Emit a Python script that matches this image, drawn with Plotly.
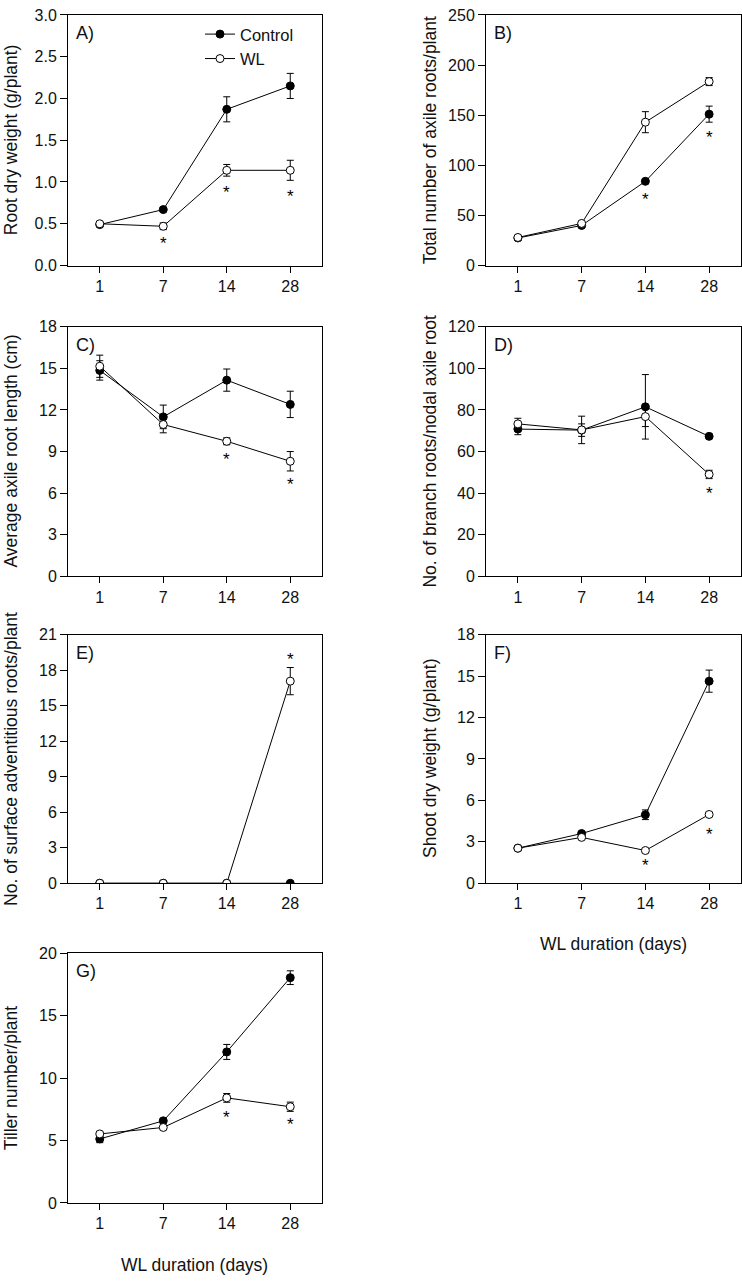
import plotly.graph_objects as go

W, H = 742, 1285
days = ['1', '7', '14', '28']

# Panel A - Root dry weight
a_ctrl = [0.49, 0.67, 1.87, 2.15]
a_ctrl_err = [0.02, 0.02, 0.15, 0.15]
a_wl = [0.50, 0.47, 1.14, 1.14]
a_wl_err = [0.02, 0.04, 0.07, 0.12]
a_star_idx = [1, 2, 3]
a_star_y = [0.26, 0.87, 0.83]

# Panel B - Total number of axile roots
b_ctrl = [27.5, 40, 84, 151]
b_ctrl_err = [2, 2, 2, 8]
b_wl = [28, 42, 143, 183.5]
b_wl_err = [2, 2, 10.5, 4]
b_star_idx = [2, 3]
b_star_y = [66, 128]

# Panel C - Average axile root length
c_ctrl = [14.85, 11.5, 14.15, 12.4]
c_ctrl_err = [0.7, 0.85, 0.8, 0.95]
c_wl = [15.15, 10.95, 9.74, 8.3]
c_wl_err = [0.8, 0.6, 0.25, 0.7]
c_star_idx = [2, 3]
c_star_y = [8.4, 6.6]

# Panel D - Branch roots / nodal axile root
d_ctrl = [70.8, 70.3, 81.5, 67.3]
d_ctrl_err = [2.7, 3.0, 15.5, 1.0]
d_wl = [73.3, 70.4, 76.8, 49.0]
d_wl_err = [2.7, 6.6, 4.8, 2.0]
d_star_idx = [3]
d_star_y = [40]

# Panel E - Surface adventitious roots
e_ctrl = [0, 0, 0, 0]
e_ctrl_err = [0, 0, 0, 0]
e_wl = [0, 0, 0, 17.07]
e_wl_err = [0, 0, 0, 1.15]
e_star_idx = [3]
e_star_y = [18.9]

# Panel F - Shoot dry weight
f_ctrl = [2.54, 3.6, 4.96, 14.63]
f_ctrl_err = [0.1, 0.1, 0.35, 0.8]
f_wl = [2.54, 3.32, 2.37, 4.98]
f_wl_err = [0.1, 0.1, 0.15, 0.15]
f_star_idx = [2, 3]
f_star_y = [1.28, 3.53]

# Panel G - Tiller number
g_ctrl = [5.13, 6.58, 12.1, 18.05]
g_ctrl_err = [0.3, 0.15, 0.6, 0.55]
g_wl = [5.53, 6.05, 8.42, 7.71]
g_wl_err = [0.15, 0.15, 0.35, 0.37]
g_star_idx = [2, 3]
g_star_y = [6.87, 6.26]

FONT = "Liberation Sans, Arial, sans-serif"
TXT = "#111111"

panels = [
    ("A)", "Root dry weight (g/plant)", 3.0, 0.5, a_ctrl, a_ctrl_err, a_wl, a_wl_err, a_star_idx, a_star_y, (68, 322, 7, 261), 11, ".1f"),
    ("B)", "Total number of axile roots/plant", 250, 50, b_ctrl, b_ctrl_err, b_wl, b_wl_err, b_star_idx, b_star_y, (486, 741, 7, 261), 430, ""),
    ("C)", "Average axile root length (cm)", 18, 3, c_ctrl, c_ctrl_err, c_wl, c_wl_err, c_star_idx, c_star_y, (68, 322, 323, 576), 11, ""),
    ("D)", "No. of branch roots/nodal axile root", 120, 20, d_ctrl, d_ctrl_err, d_wl, d_wl_err, d_star_idx, d_star_y, (486, 741, 323, 576), 430, ""),
    ("E)", "No. of surface adventitious roots/plant", 21, 3, e_ctrl, e_ctrl_err, e_wl, e_wl_err, e_star_idx, e_star_y, (68, 322, 635, 887), 11, ""),
    ("F)", "Shoot dry weight (g/plant)", 18, 3, f_ctrl, f_ctrl_err, f_wl, f_wl_err, f_star_idx, f_star_y, (486, 741, 635, 887), 430, ""),
    ("G)", "Tiller number/plant", 20, 5, g_ctrl, g_ctrl_err, g_wl, g_wl_err, g_star_idx, g_star_y, (68, 322, 958, 1211), 11, ""),
]

fig = go.Figure()
xpos = list(range(len(days)))
annotations = []
layout_axes = {}

for i, (lab, ytitle, ymax, dtick, ctrl, ctrl_err, wl, wl_err, sidx, sy, box, ytx, fmt) in enumerate(panels):
    n = i + 1
    xa = "x" if n == 1 else f"x{n}"
    ya = "y" if n == 1 else f"y{n}"
    xkey = "xaxis" if n == 1 else f"xaxis{n}"
    ykey = "yaxis" if n == 1 else f"yaxis{n}"
    x0, x1, y0, y1 = box
    dom_x = [x0 / W, x1 / W]
    dom_y = [(H - y1) / H, (H - y0) / H]
    layout_axes[xkey] = dict(
        domain=dom_x, anchor=ya, range=[-0.5, 3.5], tickvals=xpos, ticktext=days,
        showline=True, linecolor="black", linewidth=1, mirror=True, ticks="outside",
        ticklen=6, tickcolor="black", showgrid=False, zeroline=False,
        tickfont=dict(family=FONT, size=16, color=TXT),
    )
    layout_axes[ykey] = dict(
        domain=dom_y, anchor=xa, range=[0, ymax], dtick=dtick, tick0=0,
        showline=True, linecolor="black", linewidth=1, mirror=True, ticks="outside",
        ticklen=7, tickcolor="black", showgrid=False, zeroline=False,
        tickformat=fmt,
        tickfont=dict(family=FONT, size=16, color=TXT),
    )
    fig.add_trace(go.Scatter(
        x=xpos, y=ctrl, xaxis=xa, yaxis=ya, mode="lines+markers", name="Control",
        showlegend=(n == 1), legendgroup="c",
        line=dict(color="black", width=1),
        marker=dict(symbol="circle", size=8, color="black", line=dict(color="black", width=1)),
        error_y=dict(type="data", array=ctrl_err, visible=True, color="black", thickness=1, width=3.5),
    ))
    fig.add_trace(go.Scatter(
        x=xpos, y=wl, xaxis=xa, yaxis=ya, mode="lines+markers", name="WL",
        showlegend=(n == 1), legendgroup="w",
        line=dict(color="black", width=1),
        marker=dict(symbol="circle", size=8, color="white", line=dict(color="black", width=1)),
        error_y=dict(type="data", array=wl_err, visible=True, color="black", thickness=1, width=3.5),
    ))
    for k, yv in zip(sidx, sy):
        annotations.append(dict(x=xpos[k], y=yv, xref=xa, yref=ya, text="*", showarrow=False,
                                font=dict(family=FONT, size=17, color="black")))
    annotations.append(dict(x=(x0 + 6) / W, y=(H - y0 - 6) / H, xref="paper", yref="paper",
                            text=lab, showarrow=False, xanchor="left", yanchor="top",
                            font=dict(family=FONT, size=18, color=TXT)))
    annotations.append(dict(x=ytx / W, y=(H - (y0 + y1) / 2) / H, xref="paper", yref="paper",
                            text=ytitle, showarrow=False, textangle=-90, xanchor="center", yanchor="middle",
                            font=dict(family=FONT, size=17.5, color=TXT)))

for cx, cy in [((486 + 741) / 2, 949), ((68 + 322) / 2, 1274)]:
    annotations.append(dict(x=cx / W, y=(H - cy) / H, xref="paper", yref="paper",
                            text="WL duration (days)", showarrow=False, xanchor="center", yanchor="middle",
                            font=dict(family=FONT, size=17.5, color=TXT)))

fig.update_layout(
    width=W, height=H, margin=dict(l=0, r=0, t=0, b=0),
    paper_bgcolor="white", plot_bgcolor="white",
    showlegend=True,
    legend=dict(x=200 / W, y=(H - 9) / H, xanchor="left", yanchor="top",
                bgcolor="rgba(0,0,0,0)", font=dict(family=FONT, size=16.5, color=TXT),
                tracegroupgap=0),
    annotations=annotations,
    **layout_axes,
)

fig.write_html("out.html", config={"displayModeBar": False},
               post_script="document.body.style.margin='0';document.body.style.overflow='hidden';")
